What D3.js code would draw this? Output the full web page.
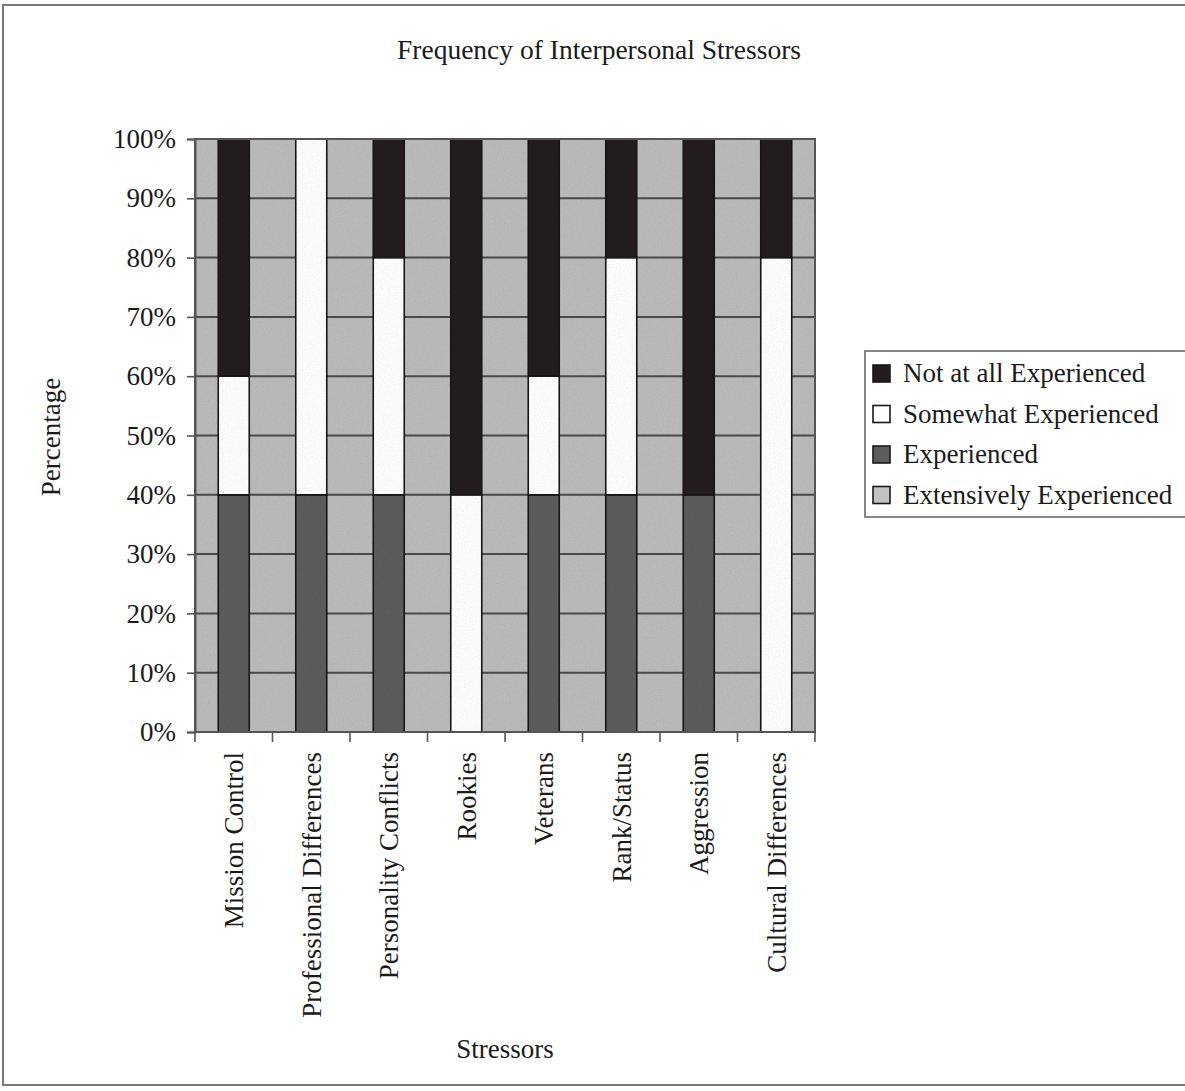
<!DOCTYPE html>
<html>
<head>
<meta charset="utf-8">
<script src="https://cdn.jsdelivr.net/npm/d3@7"></script>
<style>
  html, body { margin: 0; padding: 0; background: #ffffff; }
  svg { display: block; }
  text { font-family: "Liberation Serif", "Times New Roman", serif; fill: #1a1a1a; }
</style>
</head>
<body>
<script>
// Stressor categories along the x axis
const categories = [
  "Mission Control", "Professional Differences", "Personality Conflicts", "Rookies",
  "Veterans", "Rank/Status", "Aggression", "Cultural Differences"
];

// Percent of respondents per response level (stacked bottom to top)
const extensivelyExperienced = [0, 0, 0, 0, 0, 0, 0, 0];
const experienced            = [40, 40, 40, 0, 40, 40, 40, 0];
const somewhatExperienced    = [20, 60, 40, 40, 20, 40, 0, 80];
const notAtAllExperienced    = [40, 0, 20, 60, 40, 20, 60, 20];

const seriesNames = [
  "Extensively Experienced", "Experienced", "Somewhat Experienced", "Not at all Experienced"
];
const seriesValues = [extensivelyExperienced, experienced, somewhatExperienced, notAtAllExperienced];

const yTicks = [0, 10, 20, 30, 40, 50, 60, 70, 80, 90, 100];

const fills = {
  "Extensively Experienced": "#c2c2c2",
  "Experienced": "#5d5b5b",
  "Somewhat Experienced": "#fdfdfd",
  "Not at all Experienced": "#221d1d"
};

const W = 1185, H = 1091;
const plot = { left: 195, right: 815, top: 139, bottom: 732 };

const svg = d3.select("body").append("svg")
  .attr("width", W).attr("height", H);

// Scanned-paper grain for the plot fills
const defs = svg.append("defs");
const grain = defs.append("filter").attr("id", "grain")
  .attr("x", 0).attr("y", 0).attr("width", "100%").attr("height", "100%");
grain.append("feTurbulence").attr("type", "fractalNoise")
  .attr("baseFrequency", 0.85).attr("numOctaves", 2).attr("seed", 7).attr("result", "noise");
grain.append("feColorMatrix").attr("in", "noise").attr("type", "saturate").attr("values", 0).attr("result", "grey");
const ct = grain.append("feComponentTransfer").attr("in", "grey").attr("result", "soft");
["feFuncR", "feFuncG", "feFuncB"].forEach(f =>
  ct.append(f).attr("type", "linear").attr("slope", 0.45).attr("intercept", 0.72));
grain.append("feBlend").attr("in", "SourceGraphic").attr("in2", "soft").attr("mode", "multiply").attr("result", "mixed");
grain.append("feComposite").attr("in", "mixed").attr("in2", "SourceGraphic").attr("operator", "in");

// Outer chart frame
svg.append("rect")
  .attr("x", 3).attr("y", 5).attr("width", W + 10).attr("height", 1080)
  .attr("fill", "none").attr("stroke", "#7a7a7a").attr("stroke-width", 2);

// Scales
const xCat = d3.scaleBand().domain(categories).range([plot.left, plot.right]).padding(0);
const xBar = d3.scaleBand().domain(categories).range([plot.left, plot.right])
  .paddingInner(0.6).paddingOuter(0.3);
const y = d3.scaleLinear().domain([0, 100]).range([plot.bottom, plot.top]);

// Stacked layout
const rows = categories.map((c, i) => {
  const r = { category: c };
  seriesNames.forEach((s, k) => { r[s] = seriesValues[k][i]; });
  return r;
});
const stacked = d3.stack().keys(seriesNames)(rows);

const plotG = svg.append("g").attr("filter", "url(#grain)");

// Plot background
plotG.append("rect")
  .attr("x", plot.left).attr("y", plot.top)
  .attr("width", plot.right - plot.left).attr("height", plot.bottom - plot.top)
  .attr("fill", "#bababa");

// Horizontal gridlines
plotG.selectAll("line.grid").data(yTicks.slice(1, -1)).join("line")
  .attr("class", "grid")
  .attr("x1", plot.left).attr("x2", plot.right)
  .attr("y1", d => y(d)).attr("y2", d => y(d))
  .attr("stroke", "#4a4a4a").attr("stroke-width", 2);

// Bars
plotG.selectAll("g.series").data(stacked).join("g")
  .attr("class", "series")
  .attr("fill", d => fills[d.key])
  .selectAll("rect").data(d => d.filter(p => p[1] - p[0] > 0)).join("rect")
  .attr("x", d => xBar(d.data.category))
  .attr("width", xBar.bandwidth())
  .attr("y", d => y(d[1]))
  .attr("height", d => y(d[0]) - y(d[1]))
  .attr("stroke", "#141414").attr("stroke-width", 1.6);

// Plot border
svg.append("rect")
  .attr("x", plot.left).attr("y", plot.top)
  .attr("width", plot.right - plot.left).attr("height", plot.bottom - plot.top)
  .attr("fill", "none").attr("stroke", "#555555").attr("stroke-width", 2);

// Y axis
const yAxis = d3.axisLeft(y).tickValues(yTicks).tickSize(8).tickPadding(11)
  .tickFormat(d => d + "%");
const yG = svg.append("g").attr("transform", `translate(${plot.left},0)`).call(yAxis);
yG.select(".domain").attr("stroke", "#555555").attr("stroke-width", 2);
yG.selectAll(".tick line").attr("stroke", "#555555").attr("stroke-width", 1.6);
yG.selectAll(".tick text")
  .attr("font-family", "Liberation Serif, serif")
  .attr("font-size", 27).attr("fill", "#1a1a1a");

// X axis: tick marks on category boundaries
const boundaries = categories.map(c => xCat(c)).concat([plot.right]);
svg.selectAll("line.xtick").data(boundaries).join("line")
  .attr("class", "xtick")
  .attr("x1", d => d).attr("x2", d => d)
  .attr("y1", plot.bottom).attr("y2", plot.bottom + 10)
  .attr("stroke", "#555555").attr("stroke-width", 1.6);
svg.append("line")
  .attr("x1", plot.left).attr("x2", plot.right)
  .attr("y1", plot.bottom).attr("y2", plot.bottom)
  .attr("stroke", "#555555").attr("stroke-width", 2);

// Category labels, rotated
svg.selectAll("text.cat").data(categories).join("text")
  .attr("class", "cat")
  .attr("transform", d => `translate(${xCat(d) + xCat.bandwidth() / 2},752) rotate(-90)`)
  .attr("text-anchor", "end")
  .attr("dy", "0.35em")
  .attr("font-size", 27)
  .text(d => d);

// Titles
svg.append("text")
  .attr("x", 599).attr("y", 59)
  .attr("text-anchor", "middle").attr("font-size", 27.5)
  .text("Frequency of Interpersonal Stressors");

svg.append("text")
  .attr("x", 505).attr("y", 1058)
  .attr("text-anchor", "middle").attr("font-size", 27)
  .text("Stressors");

svg.append("text")
  .attr("transform", "translate(60,437) rotate(-90)")
  .attr("text-anchor", "middle").attr("font-size", 27)
  .text("Percentage");

// Legend
const legendOrder = seriesNames.slice().reverse();
const lg = svg.append("g");
lg.append("rect")
  .attr("x", 865).attr("y", 351).attr("width", 340).attr("height", 166)
  .attr("fill", "#ffffff").attr("stroke", "#6a6a6a").attr("stroke-width", 1.6);
const items = lg.selectAll("g.item").data(legendOrder).join("g")
  .attr("class", "item")
  .attr("transform", (d, i) => `translate(0,${382 + i * 40.5})`);
items.append("rect")
  .attr("x", 873).attr("y", -17).attr("width", 17).attr("height", 17)
  .attr("fill", d => fills[d]).attr("stroke", "#1a1a1a").attr("stroke-width", 1.6);
items.append("text")
  .attr("x", 903).attr("y", 0)
  .attr("font-size", 27)
  .text(d => d);
</script>
</body>
</html>
